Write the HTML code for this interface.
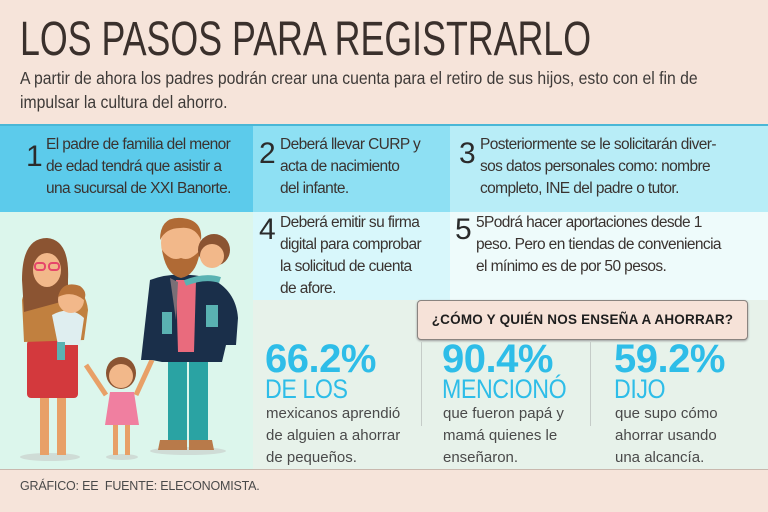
<!DOCTYPE html>
<html><head><meta charset="utf-8">
<style>
body{margin:0;width:768px;height:512px;overflow:hidden;background:#f6e4da;font-family:"Liberation Sans",sans-serif;position:relative}
div{position:absolute;box-sizing:border-box}
.t{color:#3a3330;font-size:15.5px;line-height:22px;letter-spacing:-0.6px;white-space:nowrap}
.n{font-size:30px;color:#2b2b2b;line-height:30px}
.big{font-size:40px;font-weight:bold;color:#2ebde8;letter-spacing:-0.5px;line-height:38px}
.sub{font-size:27px;color:#2ebde8;line-height:26px;letter-spacing:-0.5px;transform:scaleX(0.86);transform-origin:left top;white-space:nowrap}
.body{font-size:15px;color:#4a4a4a;line-height:22px;white-space:nowrap}
</style></head><body>
<div style="left:20px;top:14px;width:900px;font-size:48px;color:#3a302c;line-height:52px;transform:scaleX(0.745);transform-origin:left top;white-space:nowrap">LOS PASOS PARA REGISTRARLO</div>
<div style="left:20px;top:66px;width:900px;font-size:17.5px;color:#3e3a38;line-height:24px;transform:scaleX(0.9);transform-origin:left top">A partir de ahora los padres podrán crear una cuenta para el retiro de sus hijos, esto con el fin de<br>impulsar la cultura del ahorro.</div>

<div style="left:0;top:124px;width:253px;height:88px;background:#5ccbeb;border-top:2px solid #4ab7d6"></div>
<div style="left:253px;top:124px;width:197px;height:88px;background:#8ee0f3;border-top:2px solid #4ab7d6"></div>
<div style="left:450px;top:124px;width:318px;height:88px;background:#b8edf7;border-top:2px solid #4ab7d6"></div>
<div style="left:0;top:212px;width:253px;height:258px;background:#dcf6ec"></div>
<div style="left:253px;top:212px;width:197px;height:88px;background:#d8f7fb"></div>
<div style="left:450px;top:212px;width:318px;height:88px;background:#eefbfb"></div>
<div style="left:253px;top:300px;width:515px;height:170px;background:#e7f2ea"></div>
<div style="left:0;top:469px;width:768px;height:1px;background:#c9b8ae"></div>

<div class="n" style="left:26px;top:142px">1</div>
<div class="t" style="left:46px;top:134px">El padre de familia del menor<br>de edad tendrá que asistir a<br>una sucursal de XXI Banorte.</div>
<div class="n" style="left:259px;top:139px">2</div>
<div class="t" style="left:280px;top:134px">Deberá llevar CURP y<br>acta de nacimiento<br>del infante.</div>
<div class="n" style="left:459px;top:139px">3</div>
<div class="t" style="left:480px;top:134px">Posteriormente se le solicitarán diver-<br>sos datos personales como: nombre<br>completo, INE del padre o tutor.</div>
<div class="n" style="left:259px;top:215px">4</div>
<div class="t" style="left:280px;top:212px">Deberá emitir su firma<br>digital para comprobar<br>la solicitud de cuenta<br>de afore.</div>
<div class="n" style="left:455px;top:215px">5</div>
<div class="t" style="left:476px;top:212px">5Podrá hacer aportaciones desde 1<br>peso. Pero en tiendas de conveniencia<br>el mínimo es de por 50 pesos.</div>

<div style="left:417px;top:300px;width:331px;height:40px;background:#f6e2d8;border:1px solid #8a8480;border-radius:4px;box-shadow:0 1px 2px #999;font-weight:bold;font-size:13.5px;color:#1e1e1e;text-align:center;line-height:38px;letter-spacing:0.2px">¿CÓMO Y QUIÉN NOS ENSEÑA A AHORRAR?</div>
<div style="left:421px;top:342px;width:1px;height:84px;background:#c5ccc8"></div>
<div style="left:590px;top:342px;width:1px;height:84px;background:#c5ccc8"></div>

<div class="big" style="left:265px;top:340px">66.2%</div>
<div class="sub" style="left:265px;top:376px">DE LOS</div>
<div class="body" style="left:266px;top:403px">mexicanos aprendió<br>de alguien a ahorrar<br>de pequeños.</div>
<div class="big" style="left:442px;top:340px">90.4%</div>
<div class="sub" style="left:442px;top:376px">MENCIONÓ</div>
<div class="body" style="left:443px;top:403px">que fueron papá y<br>mamá quienes le<br>enseñaron.</div>
<div class="big" style="left:614px;top:340px">59.2%</div>
<div class="sub" style="left:614px;top:376px">DIJO</div>
<div class="body" style="left:615px;top:403px">que supo cómo<br>ahorrar usando<br>una alcancía.</div>

<div style="left:20px;top:479px;font-size:12.5px;color:#4a4a4a;letter-spacing:-0.2px">GRÁFICO: EE&nbsp; FUENTE: ELECONOMISTA.</div>

<svg style="position:absolute;left:0;top:210px" width="253" height="260" viewBox="0 210 253 260">
<ellipse cx="50" cy="457" rx="30" ry="4" fill="#cfdcd6"/><ellipse cx="122" cy="457" rx="16" ry="3" fill="#cfdcd6"/><ellipse cx="188" cy="451" rx="38" ry="4" fill="#cfdcd6"/>
<rect x="40" y="395" width="9" height="60" fill="#e8a067"/><rect x="57" y="395" width="9" height="60" fill="#e8a067"/>
<rect x="27" y="340" width="51" height="58" rx="4" fill="#d3393d"/>
<path d="M22 300 Q24 288 40 286 L70 286 Q86 290 88 310 L84 340 L24 342 Z" fill="#c1803f"/>
<path d="M22 280 Q22 238 47 238 Q70 240 68 280 L68 300 L24 312 Z" fill="#8b5432"/>
<ellipse cx="47" cy="270" rx="14" ry="17" fill="#f2b88a"/>
<rect x="35" y="263" width="10" height="7" rx="3" fill="none" stroke="#e6476a" stroke-width="2"/><rect x="49" y="263" width="10" height="7" rx="3" fill="none" stroke="#e6476a" stroke-width="2"/>
<path d="M52 315 Q70 305 84 318 L80 345 L58 345 Z" fill="#dfeef0"/>
<rect x="57" y="342" width="8" height="18" fill="#5ab2b2"/>
<ellipse cx="71" cy="300" rx="13" ry="13" fill="#f2b88a"/><path d="M58 297 Q62 280 80 286 Q88 292 84 300 Q72 290 58 297Z" fill="#b8733a"/>
<path d="M86 365 L106 395" stroke="#e8a067" stroke-width="5"/><path d="M152 360 L136 395" stroke="#e8a067" stroke-width="5"/>
<rect x="113" y="420" width="5" height="35" fill="#e8a067"/><rect x="125" y="420" width="5" height="35" fill="#e8a067"/>
<path d="M110 392 L134 392 L139 425 L105 425 Z" fill="#f07fa0"/>
<ellipse cx="121" cy="373" rx="15" ry="16" fill="#8b5432"/><ellipse cx="121" cy="376" rx="12" ry="12" fill="#f2b88a"/>
<rect x="168" y="352" width="19" height="92" fill="#2aa3a3"/><rect x="189" y="352" width="19" height="92" fill="#2aa3a3"/>
<path d="M160 440 L187 440 L187 450 L158 450Z" fill="#b87a4a"/><path d="M189 440 L212 440 L214 450 L189 450Z" fill="#b87a4a"/>
<path d="M150 280 Q175 270 210 278 Q236 290 238 318 L236 345 L226 345 L222 362 L162 362 L152 360 L141 360 Z" fill="#1a2f4a"/>
<path d="M176 280 L196 280 L194 352 L178 352Z" fill="#e96b7d"/>
<path d="M170 278 L178 282 L176 320 Z" fill="#7a6f76"/>
<ellipse cx="181" cy="243" rx="20" ry="25" fill="#f2b88a"/>
<path d="M162 250 Q166 275 181 278 Q197 275 200 250 Q190 262 181 258 Q171 262 162 250Z" fill="#b06a35"/>
<path d="M160 240 Q160 216 182 218 Q203 220 201 240 Q195 226 180 228 Q166 228 160 240Z" fill="#b06a35"/>
<ellipse cx="214" cy="250" rx="16" ry="16" fill="#8b5432"/><ellipse cx="212" cy="256" rx="12" ry="12" fill="#f2b88a"/>
<path d="M185 283 Q205 275 220 280" stroke="#5ab2b2" stroke-width="6" fill="none"/>
<rect x="206" y="305" width="12" height="22" fill="#5ab2b2"/><rect x="162" y="312" width="10" height="22" fill="#5ab2b2"/>
</svg>
</body></html>
